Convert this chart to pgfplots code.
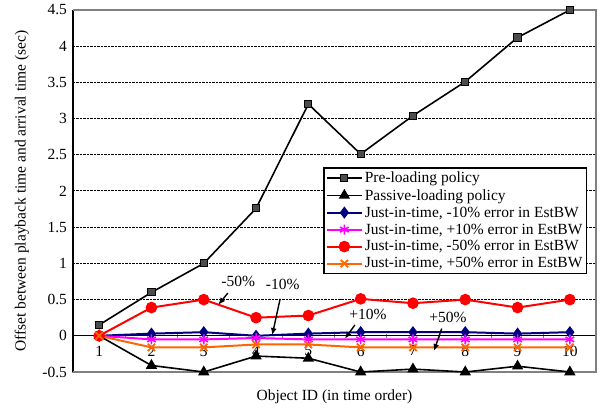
\documentclass[border=0pt]{standalone}
\usepackage{pgfplots}
\pgfplotsset{compat=1.18}
\usepackage{fontspec}
\setmainfont{Liberation Serif}
\usetikzlibrary{arrows.meta}
\definecolor{cnavy}{RGB}{0,0,128}
\definecolor{cmag}{RGB}{255,0,255}
\definecolor{cred}{RGB}{255,0,0}
\definecolor{corange}{RGB}{255,102,0}
\newcommand{\fs}{\fontsize{15.5bp}{18bp}\selectfont}
\begin{document}
\begin{tikzpicture}
\begin{axis}[
  scale only axis, width=523bp, height=362bp,
  xmin=0.5, xmax=10.5, ymin=-0.5, ymax=4.5,
  axis x line=middle, axis y line=left,
  axis line style={-, black},
  y axis line style={line width=2pt},
  x axis line style={line width=1.2pt},
  xtick={1,...,10}, major x tick style={draw=none},
  minor xtick={1.5,2.5,...,9.5},
  minor tick length=4bp,
  minor tick style={line width=1pt},
  ytick={-0.5,0,...,4.5},
  major tick length=3bp,
  ymajorgrids, major grid style={black, dash pattern=on 2.5pt off 1pt, line width=1pt},
  tick label style={font=\fs},
  /pgf/number format/assume math mode=true,
  xticklabel style={yshift=-5bp},
  yticklabel style={xshift=-1bp},
  label style={font=\fs},
  xlabel={Object ID (in time order)},
  xlabel style={at={(axis description cs:0.5,-0.069)}, anchor=center},
  ylabel={Offset between playback time and arrival time (sec)},
  ylabel style={at={(axis description cs:-0.098,0.5)}, anchor=center, rotate=0},
  clip=false,
  legend style={at={(axis description cs:0.983,0.566)}, anchor=north east,
    draw=black, line width=1.5pt, fill=white, font=\fs,
    inner sep=2pt, row sep=1.2bp},
  legend cell align=left,
  legend image code/.code={\draw[mark repeat=2,mark phase=2] plot coordinates {(0bp,0bp) (17.5bp,0bp) (35bp,0bp)};},
]
\draw[gray, line width=2pt] (rel axis cs:0,1) -- (rel axis cs:1,1) -- (rel axis cs:1,0) -- (rel axis cs:0,0);
\addplot[black, line width=1.6pt, mark=square*, mark size=3.6pt, mark options={fill=gray!60!black, draw=black, line width=1pt}]
 coordinates {(1,0.15) (2,0.6) (3,1.0) (4,1.76) (5,3.2) (6,2.51) (7,3.04) (8,3.51) (9,4.12) (10,4.5)};
\addlegendentry{Pre-loading policy}
\addplot[black, line width=1.6pt, mark=triangle*, mark size=5pt, mark options={fill=black}]
 coordinates {(1,0) (2,-0.41) (3,-0.5) (4,-0.28) (5,-0.31) (6,-0.5) (7,-0.46) (8,-0.5) (9,-0.42) (10,-0.5)};
\addlegendentry{Passive-loading policy}
\addplot[cnavy, line width=2pt, mark=diamond*, mark size=4.5pt, mark options={fill=cnavy}]
 coordinates {(1,0) (2,0.03) (3,0.05) (4,0.0) (5,0.03) (6,0.05) (7,0.05) (8,0.05) (9,0.03) (10,0.05)};
\addlegendentry{Just-in-time, -10\% error in EstBW}
\addplot[cmag, line width=2pt, mark=asterisk, mark size=5pt, mark options={line width=1.6pt}]
 coordinates {(1,0) (2,-0.05) (3,-0.05) (4,-0.03) (5,-0.05) (6,-0.05) (7,-0.05) (8,-0.05) (9,-0.05) (10,-0.05)};
\addlegendentry{Just-in-time, +10\% error in EstBW}
\addplot[cred, line width=2pt, mark=*, mark size=4.8pt, mark options={fill=cred}]
 coordinates {(1,0) (2,0.39) (3,0.5) (4,0.25) (5,0.28) (6,0.51) (7,0.45) (8,0.5) (9,0.39) (10,0.5)};
\addlegendentry{Just-in-time, -50\% error in EstBW}
\addplot[corange, line width=2pt, mark=x, mark size=5.2pt, mark options={line width=1.8pt}]
 coordinates {(1,0) (2,-0.16) (3,-0.16) (4,-0.12) (5,-0.12) (6,-0.16) (7,-0.16) (8,-0.16) (9,-0.16) (10,-0.16)};
\addlegendentry{Just-in-time, +50\% error in EstBW}
\begin{scope}[font=\fs]
\node at (axis cs:3.66,0.75) {-50\%};
\node at (axis cs:4.51,0.71) {-10\%};
\node at (axis cs:6.14,0.30) {+10\%};
\node at (axis cs:7.67,0.26) {+50\%};
\end{scope}
\begin{scope}[line width=1.4pt, -{Latex[length=7bp,width=6bp]}]
\draw (axis cs:3.46,0.59) -- (axis cs:3.28,0.43);
\draw (axis cs:4.46,0.51) -- (axis cs:4.31,0.01);
\draw (axis cs:5.89,0.15) -- (axis cs:5.70,-0.04);
\draw (axis cs:7.55,0.10) -- (axis cs:7.40,-0.21);
\end{scope}
\end{axis}
\pgfresetboundingbox
\path (current axis.south west) ++(-73bp,-42bp) coordinate (bl);
\path (current axis.north east) ++(11bp,10bp) coordinate (tr);
\path (bl) rectangle (tr);
\end{tikzpicture}
\end{document}
